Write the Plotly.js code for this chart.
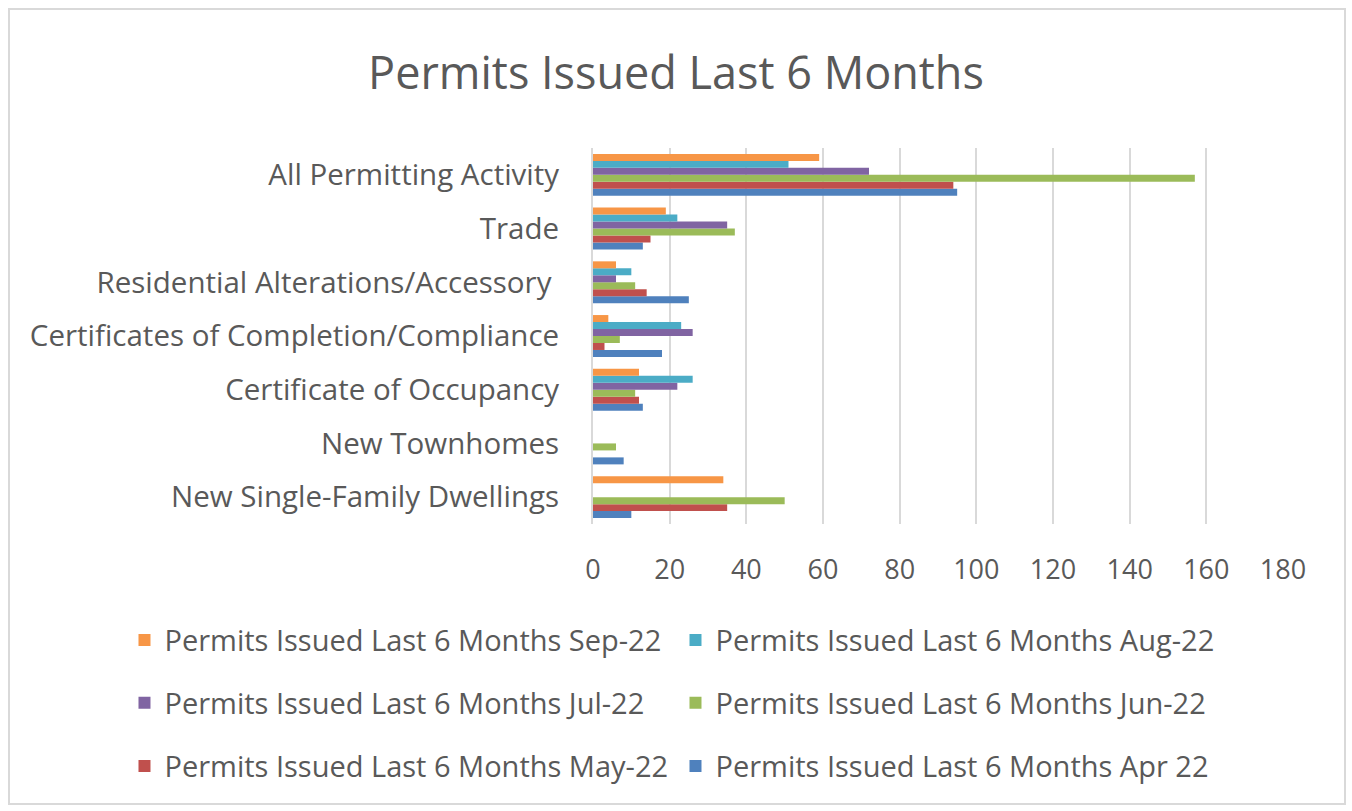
<!DOCTYPE html>
<html>
<head>
<meta charset="utf-8">
<script src="https://cdn.plot.ly/plotly-3.0.1.min.js"></script>
<style>
html,body{margin:0;padding:0;background:#fff;}
#wrap{position:relative;width:1352px;height:811px;}
#chart{width:1352px;height:811px;}
#frame{position:absolute;left:8px;top:8px;width:1334px;height:793px;border:2px solid #d9d9d9;pointer-events:none;}
</style>
</head>
<body>
<div id="wrap"><div id="chart"></div><div id="frame"></div></div>
<script>
// Categories, bottom to top
const categories = [
  "New Single-Family Dwellings",
  "New Townhomes",
  "Certificate of Occupancy",
  "Certificates of Completion/Compliance",
  "Residential Alterations/Accessory ",
  "Trade",
  "All Permitting Activity"
];
const seriesNames = [
  "Permits Issued Last 6 Months Apr 22",
  "Permits Issued Last 6 Months May-22",
  "Permits Issued Last 6 Months Jun-22",
  "Permits Issued Last 6 Months Jul-22",
  "Permits Issued Last 6 Months Aug-22",
  "Permits Issued Last 6 Months Sep-22"
];
const apr22 = [10, 8, 13, 18, 25, 13, 95];
const may22 = [35, 0, 12, 3, 14, 15, 94];
const jun22 = [50, 6, 11, 7, 11, 37, 157];
const jul22 = [0, 0, 22, 26, 6, 35, 72];
const aug22 = [0, 0, 26, 23, 10, 22, 51];
const sep22 = [34, 0, 12, 4, 6, 19, 59];
const xTicks = [0, 20, 40, 60, 80, 100, 120, 140, 160, 180];

const colors = ["#4F81BD", "#C0504D", "#9BBB59", "#8064A2", "#4BACC6", "#F79646"];
const legendIds = ["legend3", "legend3", "legend2", "legend2", "legend", "legend"];
const allSeries = [apr22, may22, jun22, jul22, aug22, sep22];

const FONT = "'Open Sans', sans-serif";
const GREY = "#595959";

const data = allSeries.map((vals, i) => ({
  type: "bar",
  orientation: "h",
  y: categories,
  x: vals,
  name: seriesNames[i],
  legend: legendIds[i],
  marker: {color: colors[i], line: {width: 0}},
  hoverinfo: "x+name"
}));

const legendBase = {
  orientation: "h",
  traceorder: "reversed",
  xanchor: "left",
  yanchor: "middle",
  x: -0.679,
  entrywidth: 506,
  entrywidthmode: "pixels",
  font: {family: FONT, size: 29, color: GREY},
  bgcolor: "rgba(0,0,0,0)"
};

const layout = {
  width: 1352,
  height: 811,
  paper_bgcolor: "#ffffff",
  plot_bgcolor: "#ffffff",
  margin: {l: 593, r: 69, t: 148, b: 287},
  title: {
    text: "Permits Issued Last 6 Months",
    font: {family: FONT, size: 45, color: GREY},
    x: 0.5, xanchor: "center",
    y: 0.91, yanchor: "middle", yref: "container"
  },
  barmode: "group",
  bargap: 0.22,
  bargroupgap: 0,
  xaxis: {
    range: [0, 180],
    tickvals: xTicks,
    ticktext: xTicks.map(String),
    showgrid: true,
    gridcolor: "#d9d9d9",
    gridwidth: 2,
    zeroline: false,
    showline: false,
    ticks: "",
    ticklabelstandoff: 27,
    tickfont: {family: FONT, size: 27, color: GREY},
    fixedrange: true
  },
  yaxis: {
    type: "category",
    categoryorder: "array",
    categoryarray: categories,
    showgrid: false,
    zeroline: false,
    showline: true,
    linecolor: "#d9d9d9",
    linewidth: 2,
    ticks: "",
    ticklabelstandoff: 26,
    tickfont: {family: FONT, size: 29.5, color: GREY},
    fixedrange: true
  },
  legend: Object.assign({}, legendBase, {y: -0.309}),
  legend2: Object.assign({}, legendBase, {y: -0.476}),
  legend3: Object.assign({}, legendBase, {y: -0.644}),
  showlegend: true
};

Plotly.newPlot("chart", data, layout, {displayModeBar: false, staticPlot: true});
</script>
</body>
</html>
